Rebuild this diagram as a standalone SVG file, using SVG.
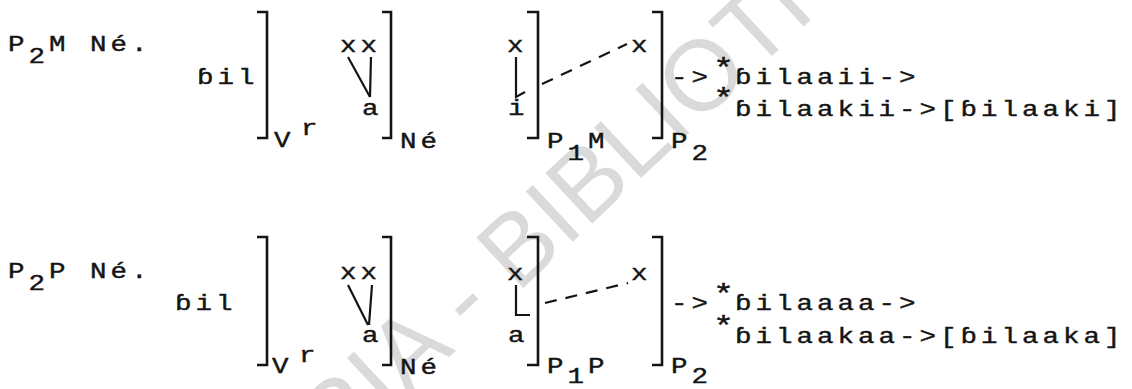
<svg xmlns="http://www.w3.org/2000/svg" width="1132" height="389" viewBox="0 0 1132 389">
<style>
.t{font-family:"Liberation Mono","DejaVu Sans Mono",monospace;font-size:22px;letter-spacing:3.2px;fill:#141414;stroke:#141414;stroke-width:0.4}
.st{font-size:28px;letter-spacing:0px}
.br{fill:none;stroke:#141414;stroke-width:2.6}
.ln{fill:none;stroke:#141414;stroke-width:2.2}
.ds{fill:none;stroke:#141414;stroke-width:2.2;stroke-dasharray:12 9}
.wm{font-family:"Liberation Sans",Arial,sans-serif;font-size:100px;fill:#dadada}
</style>
<rect width="1132" height="389" fill="#ffffff"/>
<g id="watermark">
<text class="wm" x="566" y="248" text-anchor="middle" transform="rotate(-43 566 248)">CODESRIA - BIBLIOTHEQUE</text>
</g>
<g id="row1">
<g id="r1-label"><text class="t" transform="scale(1.25 1)" x="6.4" y="51">P<tspan dy="12">2</tspan><tspan dy="-12">M</tspan> Né.</text></g>
<g id="r1-root"><text class="t" transform="scale(1.25 1)" x="157.6" y="84">ɓil</text><path class="br" d="M257,12 H267 V138 H257"/><text class="t" transform="scale(1.25 1)" x="219.2" y="147">V<tspan x="240.8" dy="-12">r</tspan></text></g>
<g id="r1-ne"><text class="t" transform="scale(1.25 1)" x="272" y="52">xx</text><text class="t" transform="scale(1.25 1)" x="289.6" y="115">a</text><path class="br" d="M382,12 H391 V138 H382"/><text class="t" transform="scale(1.25 1)" x="320" y="148">Né</text></g>
<g id="r1-p1m"><text class="t" transform="scale(1.25 1)" x="405.6" y="52">x</text><text class="t" transform="scale(1.25 1)" x="406.4" y="115">i</text><path class="br" d="M527,12 H538 V138 H527"/><text class="t" transform="scale(1.25 1)" x="437.6" y="148">P<tspan dy="12">1</tspan><tspan dy="-12">M</tspan></text></g>
<g id="r1-p2"><text class="t" transform="scale(1.25 1)" x="504.8" y="52">x</text><path class="br" d="M652,12 H662 V138 H652"/><text class="t" transform="scale(1.25 1)" x="536.8" y="148">P<tspan dy="12">2</tspan></text></g>
<g id="r1-out"><text class="t" transform="scale(1.25 1)" x="536.8" y="84">-&gt;<tspan class="st" x="570.4" dy="-7">*</tspan><tspan x="588" dy="7">ɓilaaii-&gt;</tspan></text><text class="t" transform="scale(1.25 1)" x="570.4" y="107"><tspan class="st">*</tspan><tspan x="588" dy="9">ɓilaakii-&gt;[ɓilaaki]</tspan></text></g>
</g>
<g id="row2">
<g id="r2-label"><text class="t" transform="scale(1.25 1)" x="6.4" y="278">P<tspan dy="12">2</tspan><tspan dy="-12">P</tspan> Né.</text></g>
<g id="r2-root"><text class="t" transform="scale(1.25 1)" x="140" y="310">ɓil</text><path class="br" d="M257,237 H267 V365 H257"/><text class="t" transform="scale(1.25 1)" x="217.6" y="373">V<tspan x="239.2" dy="-11">r</tspan></text></g>
<g id="r2-ne"><text class="t" transform="scale(1.25 1)" x="272" y="279">xx</text><text class="t" transform="scale(1.25 1)" x="289.6" y="342">a</text><path class="br" d="M382,237 H391 V365 H382"/><text class="t" transform="scale(1.25 1)" x="320" y="374">Né</text></g>
<g id="r2-p1p"><text class="t" transform="scale(1.25 1)" x="405.6" y="280">x</text><text class="t" transform="scale(1.25 1)" x="406.4" y="342">a</text><path class="br" d="M527,237 H538 V365 H527"/><text class="t" transform="scale(1.25 1)" x="437.6" y="373">P<tspan dy="10">1</tspan><tspan dy="-10">P</tspan></text></g>
<g id="r2-p2"><text class="t" transform="scale(1.25 1)" x="504.8" y="280">x</text><path class="br" d="M652,237 H662 V365 H652"/><text class="t" transform="scale(1.25 1)" x="536.8" y="373">P<tspan dy="10">2</tspan></text></g>
<g id="r2-out"><text class="t" transform="scale(1.25 1)" x="536.8" y="310">-&gt;<tspan class="st" x="570.4" dy="-7">*</tspan><tspan x="588" dy="7">ɓilaaaa-&gt;</tspan></text><text class="t" transform="scale(1.25 1)" x="570.4" y="335"><tspan class="st">*</tspan><tspan x="588" dy="8">ɓilaakaa-&gt;[ɓilaaka]</tspan></text></g>
</g>
<g id="connectors">
<path class="ln" d="M348,57 L370,97 M371,57 L370,97"/>
<path class="ln" d="M516,57 V97 L525,92"/>
<path class="ds" d="M542,84 L627,44"/>
<path class="ln" d="M348,285 L368,325 M372,285 L369,325"/>
<path class="ln" d="M516,285 V315 H530"/>
<path class="ds" d="M545,303 L628,283"/>
</g>
</svg>
